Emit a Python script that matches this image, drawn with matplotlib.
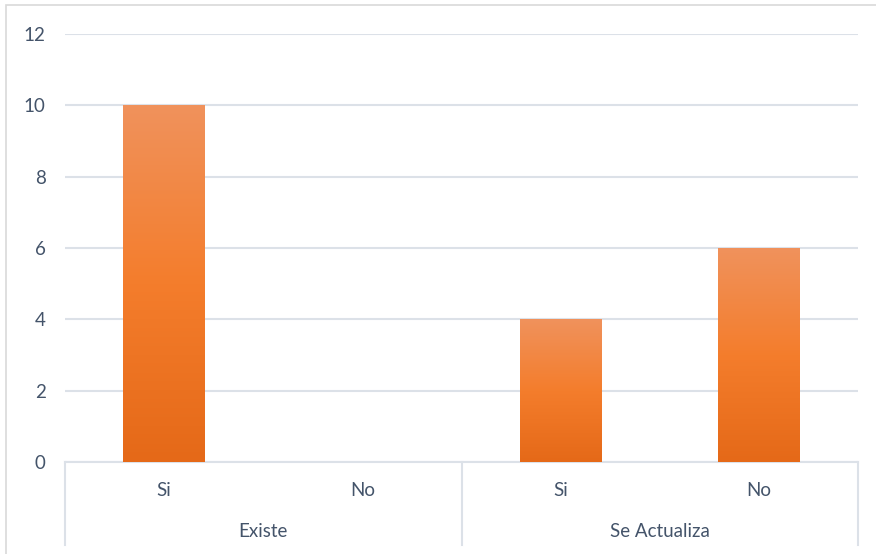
import matplotlib
matplotlib.use("Agg")
import matplotlib.pyplot as plt
import matplotlib.transforms as mtransforms
from matplotlib.colors import LinearSegmentedColormap
from matplotlib.lines import Line2D
from matplotlib.patches import Rectangle
import numpy as np

# data
groups = ["Existe", "Se Actualiza"]
categories = ["Si", "No", "Si", "No"]
values = [10, 0, 4, 6]
y_ticks = [0, 2, 4, 6, 8, 10, 12]

TEXT = "#44546A"
GRID = "#DCE1E8"
FS = 13.5
plt.rcParams["font.family"] = ["Lato", "DejaVu Sans"]

# Excel-like vertical gradient (bottom -> top)
bar_cmap = LinearSegmentedColormap.from_list(
    "orange_grad", ["#E56918", "#F47D2C", "#F0925C"])

fig = plt.figure(figsize=(8.76, 5.54), dpi=100)
ax = fig.add_axes([65 / 876, 92 / 554, 793 / 876, 428 / 554])

x = np.arange(len(categories))
bars = ax.bar(x, values, width=0.41, color="none", edgecolor="none", zorder=3)

grad = np.linspace(0, 1, 256).reshape(-1, 1)
for b in bars:
    h = b.get_height()
    if h <= 0:
        continue
    x0 = b.get_x()
    im = ax.imshow(grad, cmap=bar_cmap, origin="lower", aspect="auto",
                   extent=[x0, x0 + b.get_width(), 0, h], zorder=3)
    im.set_clip_path(b)

ax.set_xlim(-0.5, len(categories) - 0.5)
ax.set_ylim(0, 12)
ax.set_yticks(y_ticks)
ax.set_xticks([])
ax.tick_params(axis="y", length=0, pad=14, labelsize=FS, labelcolor=TEXT)
ax.grid(axis="y", color=GRID, linewidth=1.5, zorder=0)
for side in ["top", "right", "left"]:
    ax.spines[side].set_visible(False)
ax.spines["bottom"].set_color(GRID)
ax.spines["bottom"].set_linewidth(1.5)

# multi-level category axis
trans = mtransforms.blended_transform_factory(ax.transData, ax.transAxes)
for i, cat in enumerate(categories):
    ax.text(i, -0.067, cat, transform=trans, ha="center", va="center",
            fontsize=FS, color=TEXT)
per_group = len(categories) // len(groups)
for g, name in enumerate(groups):
    center = g * per_group + (per_group - 1) / 2
    ax.text(center, -0.162, name, transform=trans, ha="center", va="center",
            fontsize=FS, color=TEXT)
for edge in np.arange(len(groups) + 1) * per_group - 0.5:
    ax.add_line(Line2D([edge, edge], [0, -0.194], transform=trans,
                       color=GRID, linewidth=1.5, clip_on=False))

# chart area border (clipped at right and bottom like the reference)
fig.patches.append(Rectangle((6 / 876, -0.1), 1.2, 1 - 5 / 554 + 0.1,
                             transform=fig.transFigure, fill=False,
                             edgecolor="#D9D9D9", linewidth=1.2))

fig.savefig("out.png", dpi=100)
